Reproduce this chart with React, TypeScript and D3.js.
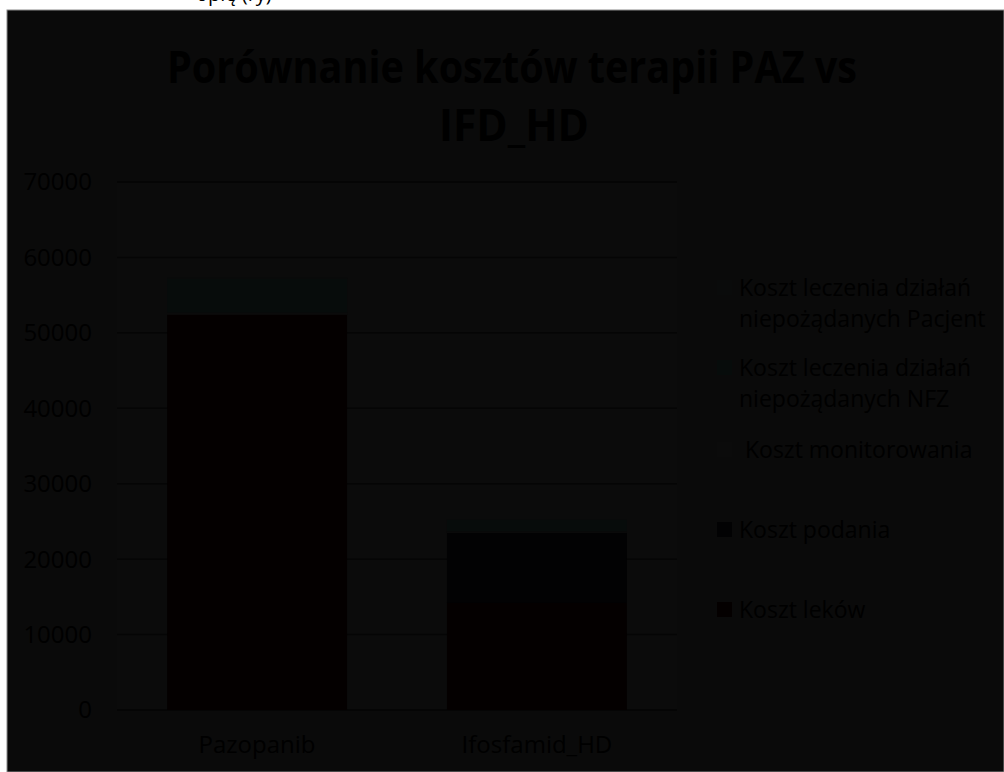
import React, { useEffect } from "react";
import * as d3 from "d3";

const categories = ["Pazopanib", "Ifosfamid_HD"];
const seriesNames = [
  "Koszt leków",
  "Koszt podania",
  "Koszt monitorowania",
  "Koszt leczenia działań niepożądanych NFZ",
  "Koszt leczenia działań niepożądanych Pacjent",
];
const kosztLekow = [52400, 14200];
const kosztPodania = [0, 9300];
const kosztMonitorowania = [300, 200];
const kosztNFZ = [4500, 1500];
const kosztPacjent = [200, 100];
const yTicks = [0, 10000, 20000, 30000, 40000, 50000, 60000, 70000];

const seriesColors = ["#040000", "#020203", "#0b0b0b", "#070c0b", "#0a0b0b"];

const legendItems = [
  { idx: 4, lines: ["Koszt leczenia działań", "niepożądanych Pacjent"] },
  { idx: 3, lines: ["Koszt leczenia działań", "niepożądanych NFZ"] },
  { idx: 2, lines: [" Koszt monitorowania"] },
  { idx: 1, lines: ["Koszt podania"] },
  { idx: 0, lines: ["Koszt leków"] },
];

export default function App() {
  useEffect(() => {
    document.body.style.margin = "0";
  }, []);
  const W = 1004,
    H = 772;
  const plot = { left: 117, right: 677, top: 182, bottom: 710 };
  const y = d3.scaleLinear().domain([0, 70000]).range([plot.bottom, plot.top]);
  const x = d3
    .scaleBand<string>()
    .domain(categories)
    .range([plot.left, plot.right])
    .paddingInner(0.357)
    .paddingOuter(0.179);

  const table = categories.map((c, i) => ({
    cat: c,
    s0: kosztLekow[i],
    s1: kosztPodania[i],
    s2: kosztMonitorowania[i],
    s3: kosztNFZ[i],
    s4: kosztPacjent[i],
  }));
  const stack = d3.stack<any>().keys(["s0", "s1", "s2", "s3", "s4"])(table);

  const font = "'Open Sans', sans-serif";
  const legendY = [288, 368, 450, 530, 610];

  return (
    <svg
      width={W}
      height={H}
      style={{ position: "absolute", left: 0, top: 0, display: "block" }}
    >
      <rect x={0} y={0} width={W} height={H} fill="#ffffff" />
      <text x={196} y={1} fontFamily={font} fontSize={20} fill="#000">
        opię (ry)
      </text>
      <rect x={7} y={10} width={W - 7} height={H - 10} fill="#0a0a0a" stroke="#8a8a8a" strokeWidth={1} />
      <rect
        x={plot.left}
        y={plot.top}
        width={plot.right - plot.left}
        height={plot.bottom - plot.top}
        fill="#0b0b0b"
      />
      {/* Title */}
      <text
        x={512}
        y={83}
        textAnchor="middle"
        fontFamily={font}
        fontWeight="bold"
        fontSize={45}
        fill="#000"
        textLength={690}
        lengthAdjust="spacingAndGlyphs"
      >
        Porównanie kosztów terapii PAZ vs
      </text>
      <text
        x={514}
        y={141}
        textAnchor="middle"
        fontFamily={font}
        fontWeight="bold"
        fontSize={45}
        fill="#000"
        textLength={150}
        lengthAdjust="spacingAndGlyphs"
      >
        IFD_HD
      </text>
      {/* gridlines */}
      {yTicks.map((t) => (
        <line
          key={t}
          x1={plot.left}
          x2={plot.right}
          y1={y(t)}
          y2={y(t)}
          stroke="#050505"
          strokeWidth={1.5}
        />
      ))}
      {/* y labels */}
      {yTicks.map((t) => (
        <text
          key={"l" + t}
          x={92}
          y={y(t)}
          dy="0.35em"
          textAnchor="end"
          fontFamily={font}
          fontSize={24}
          fill="#000"
        >
          {t}
        </text>
      ))}
      {/* bars */}
      {stack.map((layer, si) => (
        <g key={si} fill={seriesColors[si]}>
          {layer.map((d: any, ci: number) => (
            <rect
              key={ci}
              x={x(categories[ci])}
              width={x.bandwidth()}
              y={y(d[1])}
              height={Math.max(0, y(d[0]) - y(d[1]))}
            />
          ))}
        </g>
      ))}
      {/* category labels */}
      {categories.map((c) => (
        <text
          key={c}
          x={(x(c) as number) + x.bandwidth() / 2}
          y={745}
          dy="0.35em"
          textAnchor="middle"
          fontFamily={font}
          fontSize={24}
          fill="#000"
        >
          {c}
        </text>
      ))}
      {/* legend */}
      {legendItems.map((it, k) => (
        <g key={k}>
          <rect
            x={717}
            y={legendY[k] - 8}
            width={15}
            height={15}
            fill={seriesColors[it.idx]}
          />
          {it.lines.map((ln, j) => (
            <text
              key={j}
              x={739}
              y={legendY[k] + j * 31}
              dy="0.35em"
              fontFamily={font}
              fontSize={23}
              fill="#000"
              style={{ whiteSpace: "pre" }}
            >
              {ln}
            </text>
          ))}
        </g>
      ))}
    </svg>
  );
}
